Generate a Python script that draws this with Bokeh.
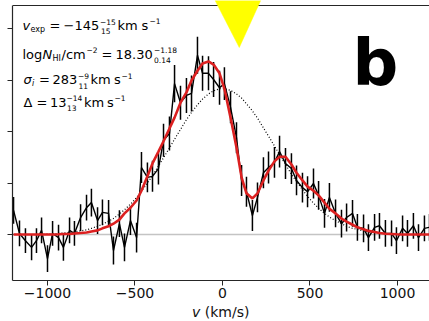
from bokeh.plotting import figure
from bokeh.models import Label, Span, FixedTicker, Range1d, ColumnDataSource, Div
from bokeh.layouts import column
from bokeh.embed import file_html
from bokeh.resources import INLINE

# ---- data -------------------------------------------------------------
velocity = [-1194, -1160, -1126, -1091, -1063, -1034, -1000, -971, -937, -909,
            -874, -846, -811, -777, -749, -714, -686, -651, -623, -589,
            -560, -526, -491, -463, -429, -400, -366, -337, -303, -274,
            -240, -206, -177, -143, -114, -80, -51, -17, 11, 46,
            80, 109, 137, 171, 200, 234, 263, 297, 326, 360,
            394, 423, 457, 486, 520, 549, 583, 611, 646, 680,
            709, 743, 771, 806, 834, 869, 897, 931, 966, 994,
            1029, 1057, 1091, 1120, 1154, 1183]
flux = [0.47, 0.02, -0.12, -0.25, -0.12, 0.08, -0.47, 0.02, -0.06, -0.25,
        0.08, 0.02, 0.33, 0.52, 0.62, 0.27, 0.43, 0.41, -0.31, 0.21,
        -0.25, 0.27, -0.06, 1.30, 1.11, 1.13, 1.28, 1.83, 1.96, 2.93,
        2.56, 2.70, 2.74, 3.48, 3.13, 3.13, 3.01, 2.85, 2.93, 2.47,
        1.88, 1.05, 0.83, 0.37, 0.72, 1.20, 1.30, 1.40, 1.61, 1.38,
        1.28, 1.05, 0.91, 0.83, 0.99, 0.76, 0.41, 0.72, 0.41, 0.21,
        0.33, 0.41, 0.14, 0.12, -0.06, 0.14, 0.17, 0.02, 0.02, -0.12,
        0.12, 0.02, 0.17, -0.06, 0.12, 0.14]
flux_err = [0.26, 0.25, 0.24, 0.25, 0.24, 0.25, 0.26, 0.24, 0.25, 0.26,
            0.25, 0.24, 0.26, 0.25, 0.27, 0.26, 0.25, 0.26, 0.27, 0.26,
            0.27, 0.28, 0.29, 0.30, 0.29, 0.30, 0.31, 0.32, 0.33, 0.36,
            0.33, 0.34, 0.35, 0.36, 0.34, 0.33, 0.34, 0.33, 0.32, 0.31,
            0.30, 0.30, 0.29, 0.30, 0.29, 0.30, 0.31, 0.30, 0.31, 0.30,
            0.30, 0.29, 0.29, 0.30, 0.29, 0.28, 0.28, 0.28, 0.27, 0.27,
            0.27, 0.26, 0.26, 0.27, 0.26, 0.26, 0.25, 0.26, 0.25, 0.26,
            0.25, 0.26, 0.25, 0.26, 0.25, 0.26]
model_fit = [0, 0, 0, 0, 0, 0, 0, 0, 0.005, 0.01,
             0.01, 0.02, 0.03, 0.04, 0.06, 0.08, 0.12, 0.16, 0.21, 0.29,
             0.41, 0.52, 0.66, 0.85, 1.13, 1.38, 1.61, 1.81, 2.06, 2.27,
             2.56, 2.76, 2.99, 3.18, 3.32, 3.36, 3.30, 3.13, 2.83, 2.27,
             1.69, 1.11, 0.80, 0.70, 0.80, 1.05, 1.24, 1.42, 1.51, 1.51,
             1.36, 1.20, 1.05, 0.93, 0.85, 0.76, 0.62, 0.50, 0.41, 0.31,
             0.25, 0.19, 0.14, 0.10, 0.07, 0.05, 0.03, 0.015, 0.01, 0.005,
             0, 0, 0, 0, 0, 0]
intrinsic = [0, 0, 0, 0, 0, 0, 0.01, 0.01, 0.02, 0.03,
             0.04, 0.05, 0.07, 0.09, 0.12, 0.16, 0.20, 0.26, 0.31, 0.40,
             0.48, 0.59, 0.72, 0.84, 1.00, 1.14, 1.33, 1.49, 1.68, 1.85,
             2.04, 2.23, 2.37, 2.52, 2.63, 2.73, 2.79, 2.83, 2.83, 2.80,
             2.73, 2.65, 2.54, 2.40, 2.26, 2.07, 1.91, 1.72, 1.55, 1.36,
             1.17, 1.03, 0.87, 0.74, 0.61, 0.51, 0.41, 0.34, 0.27, 0.21,
             0.16, 0.12, 0.10, 0.07, 0.05, 0.04, 0.03, 0.02, 0.01, 0.01,
             0, 0, 0, 0, 0, 0]
arrow_velocity = [88]
x_ticks = [-1000, -500, 0, 500, 1000]
x_tick_labels = ["\u22121000", "\u2212500", "0", "500", "1000"]
y_ticks = [0, 1, 2, 3, 4]

# ---- layout constants -------------------------------------------------
W = 429
PLOT_H = 304
X0, X1 = -1200, 1182.9
Y0, Y1 = -0.893, 4.544
TOP_SPINE = (234 - 5) / 51.5
FRAME_L, FRAME_B = 12, 280     # pixel position of frame left / bottom
FONT = "DejaVu Sans"
BASE_FIX = 0.39                # baseline correction (fraction of font size)

p = figure(width=W, height=PLOT_H, output_backend="svg", toolbar_location=None,
           x_range=Range1d(X0, X1), y_range=Range1d(Y0, Y1),
           min_border_left=FRAME_L, min_border_right=0, min_border_top=0,
           min_border_bottom=PLOT_H - FRAME_B, margin=0)
p.outline_line_color = None
p.grid.visible = False
p.background_fill_color = "white"
p.border_fill_color = "white"

# axes
xa = p.xaxis[0]
xa.ticker = FixedTicker(ticks=x_ticks)
xa.major_label_overrides = {t: s for t, s in zip(x_ticks, x_tick_labels)}
xa.major_label_text_font = FONT
xa.major_label_text_font_size = "14px"
xa.major_label_text_color = "#111111"
xa.major_label_standoff = 2
xa.major_tick_out = 5
xa.major_tick_in = 0
xa.minor_tick_out = 0
xa.minor_tick_in = 0
xa.axis_line_color = "#262626"
xa.axis_line_width = 1.2
xa.major_tick_line_color = "#262626"

ya = p.yaxis[0]
ya.ticker = FixedTicker(ticks=y_ticks)
ya.bounds = (Y0, TOP_SPINE)
ya.major_label_overrides = {t: "" for t in y_ticks}
ya.major_label_standoff = 0
ya.major_tick_out = 5
ya.major_tick_in = 0
ya.minor_tick_out = 0
ya.minor_tick_in = 0
ya.axis_line_color = "#262626"
ya.axis_line_width = 1.2
ya.major_tick_line_color = "#262626"

# top spine
p.add_layout(Span(location=TOP_SPINE, dimension="width",
                  line_color="#262626", line_width=1.2, level="underlay"))

# zero line
p.add_layout(Span(location=0, dimension="width", line_color="#c4c4c4",
                  line_width=1.5, level="underlay"))

src = ColumnDataSource(dict(
    v=velocity, f=flux,
    lo=[a - b for a, b in zip(flux, flux_err)],
    hi=[a + b for a, b in zip(flux, flux_err)],
    m=model_fit, g=intrinsic))

p.segment(x0="v", y0="lo", x1="v", y1="hi", source=src,
          line_color="black", line_width=1.5)
p.line("v", "f", source=src, line_color="black", line_width=1.4)
p.line("v", "g", source=src, line_color="black", line_width=1.2,
       line_dash="1 2")
p.line("v", "m", source=src, line_color="#dc2020", line_width=2.6)

# yellow arrow marker
half_w = 130
tri_top = Y1
tri_apex = (234 - 47) / 51.5
for av in arrow_velocity:
    p.patch([av - half_w, av + half_w, av + 8], [tri_top, tri_top, tri_apex],
            fill_color="#ffff00", line_color="#ffff00", line_width=0.5)


def txt(text, px, py, size=13, style="normal", color="black"):
    p.add_layout(Label(x=X0, y=Y0, x_units="data", y_units="data",
                       x_offset=px - FRAME_L,
                       y_offset=FRAME_B - py + BASE_FIX * size,
                       text=text, text_font=FONT, text_font_size=f"{size}px",
                       text_font_style=style, text_color=color,
                       text_baseline="alphabetic", text_align="left"))


S = 8
M = 7.5
# line 1
B = 30
txt("v", 22, B, style="italic")
txt("exp", 30, B + 2.5, size=S)
txt("=", 49, B)
txt("\u2212", 63, B)
txt("145", 74, B)
txt("\u221215", 99.5, B - 6, size=M)
txt("15", 100.5, B + 3.5, size=M)
txt("km", 117, B)
txt("s", 141, B)
txt("\u22121", 149, B - 6.5, size=M)
# line 2
B = 59
txt("log", 22, B)
txt("N", 42, B, style="italic")
txt("HI", 52, B + 2, size=S)
txt("/cm", 61, B)
txt("\u22122", 86, B - 6.5, size=M)
txt("=", 101, B)
txt("18.30", 115, B)
txt("\u22121.18", 153.5, B - 6.5, size=M)
txt("0.14", 153.5, B + 3.5, size=M)
# line 3
B = 84.5
txt("\u03c3", 23, B, style="italic")
txt("i", 31.5, B + 2, size=S, style="italic")
txt("=", 38.5, B)
txt("283", 52, B)
txt("\u22129", 77.5, B - 6.5, size=M)
txt("11", 78, B + 3.5, size=M)
txt("km", 90, B)
txt("s", 113.5, B)
txt("\u22121", 121, B - 6.5, size=M)
# line 4
B = 107
txt("\u0394", 23, B)
txt("=", 36, B)
txt("13", 49.5, B)
txt("\u221214", 66, B - 6.5, size=M)
txt("13", 66.5, B + 3.5, size=M)
txt("km", 83.5, B)
txt("s", 106.5, B)
txt("\u22121", 114, B - 6.5, size=M)

# panel letter
txt("b", 352, 87, size=64, style="bold")

# x-axis title (below the plot)
title = Div(text='<div style="position:relative; left:192px; '
                 'font-family:\'DejaVu Sans\'; font-size:14px; line-height:17px; '
                 'white-space:nowrap; color:#111111;"><i>v</i> (km/s)</div>',
            width=W, height=17, margin=0)

layout = column(p, title, spacing=0, margin=0)
open("out.html", "w").write(file_html(layout, INLINE))
